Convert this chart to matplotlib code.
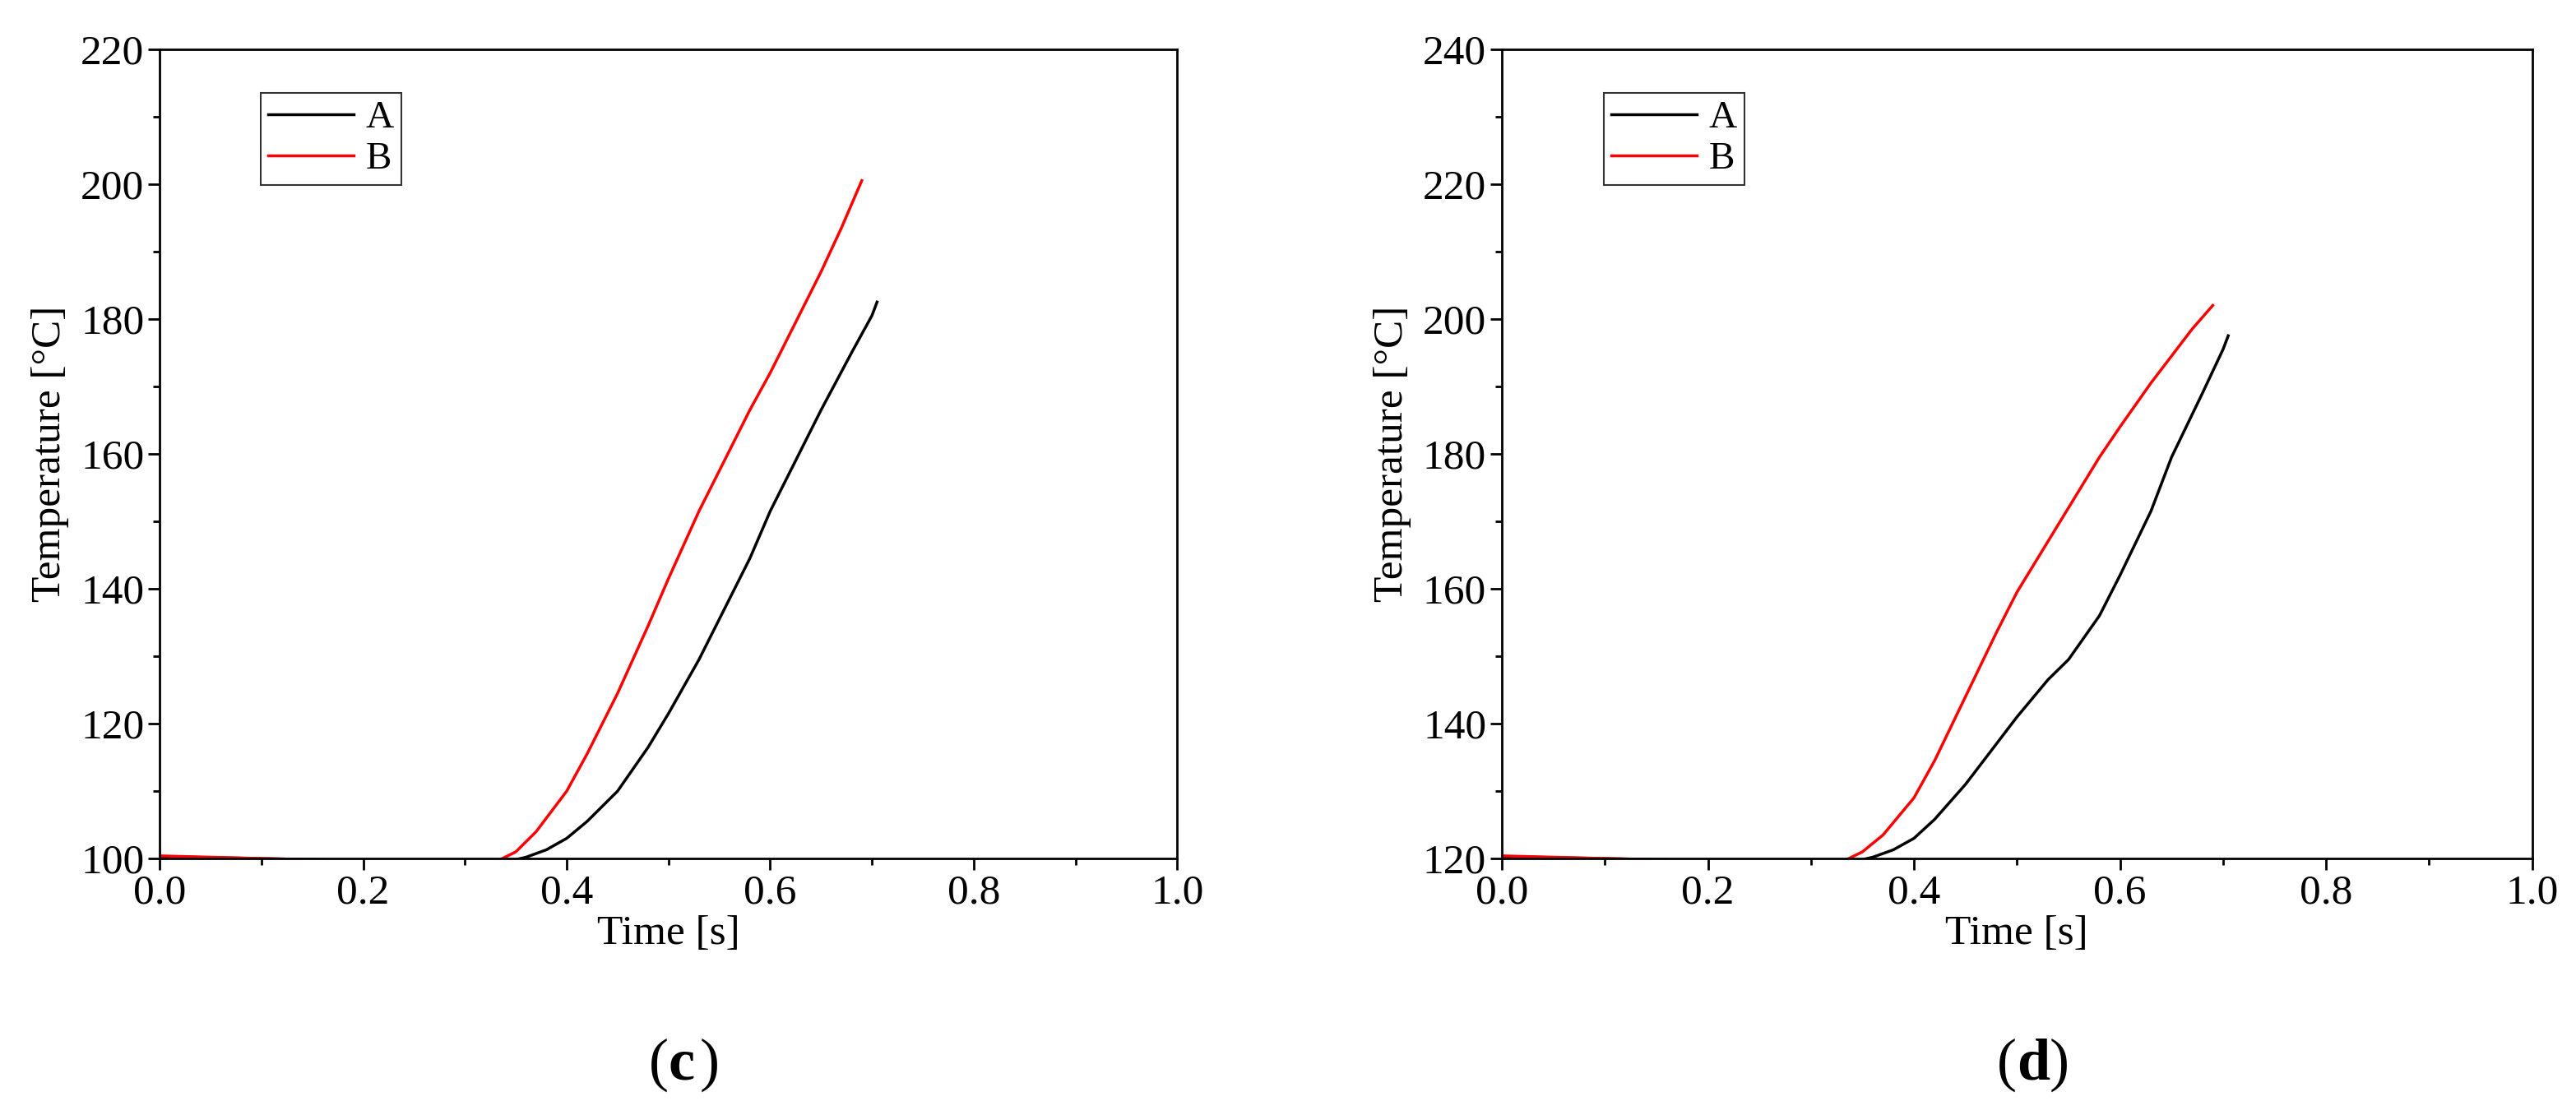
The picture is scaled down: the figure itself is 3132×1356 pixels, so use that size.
import numpy as np
import matplotlib.pyplot as plt
from matplotlib.ticker import MultipleLocator, AutoMinorLocator

plt.rcParams['font.family'] = ['Liberation Serif', 'DejaVu Serif']

# panel (c)
c_a_t = [0.0, 0.1, 0.2, 0.3, 0.34, 0.36, 0.38, 0.40, 0.42, 0.45, 0.48, 0.50, 0.53, 0.55, 0.58, 0.60, 0.63, 0.65, 0.68, 0.70, 0.705]
c_a_T = [100.3, 100.0, 99.7, 99.5, 99.5, 100.2, 101.3, 103.0, 105.5, 110.0, 116.5, 121.5, 129.5, 135.5, 144.5, 151.5, 160.5, 166.5, 175.0, 180.5, 182.5]
c_b_t = [0.0, 0.1, 0.2, 0.3, 0.33, 0.35, 0.37, 0.40, 0.42, 0.45, 0.48, 0.50, 0.53, 0.55, 0.58, 0.60, 0.63, 0.65, 0.67, 0.69]
c_b_T = [100.4, 100.0, 99.7, 99.5, 99.5, 101.0, 104.0, 110.0, 115.5, 124.5, 134.5, 141.5, 151.5, 157.5, 166.5, 172.0, 181.0, 187.0, 193.5, 200.5]

# panel (d)
d_a_t = [0.0, 0.1, 0.2, 0.3, 0.34, 0.36, 0.38, 0.40, 0.42, 0.45, 0.48, 0.50, 0.53, 0.55, 0.58, 0.60, 0.63, 0.65, 0.68, 0.70, 0.705]
d_a_T = [120.3, 120.0, 119.7, 119.5, 119.5, 120.2, 121.3, 123.0, 125.8, 131.0, 137.0, 141.0, 146.5, 149.5, 156.0, 162.0, 171.5, 179.5, 189.0, 195.5, 197.5]
d_b_t = [0.0, 0.1, 0.2, 0.3, 0.33, 0.35, 0.37, 0.40, 0.42, 0.45, 0.48, 0.50, 0.53, 0.55, 0.58, 0.60, 0.63, 0.65, 0.67, 0.69]
d_b_T = [120.4, 120.0, 119.7, 119.5, 119.5, 121.0, 123.5, 129.0, 134.5, 144.0, 153.5, 159.5, 167.0, 172.0, 179.5, 184.0, 190.5, 194.5, 198.5, 202.0]

panels = [
    ("(c)", c_a_t, c_a_T, c_b_t, c_b_T, (100, 220)),
    ("(d)", d_a_t, d_a_T, d_b_t, d_b_T, (120, 240)),
]

fig = plt.figure(figsize=(31.32, 13.56), dpi=100)
boxes = [[0.062, 0.230, 0.395, 0.726], [0.583, 0.230, 0.400, 0.726]]

for box, (tag, at, aT, bt, bT, ylim) in zip(boxes, panels):
    ax = fig.add_axes(box)
    ax.plot(at, aT, color="black", lw=2.5, label="A")
    ax.plot(bt, bT, color="red", lw=2.5, label="B")
    ax.set_xlim(0, 1.0)
    ax.set_ylim(*ylim)
    ax.xaxis.set_major_locator(MultipleLocator(0.2))
    ax.yaxis.set_major_locator(MultipleLocator(20))
    ax.xaxis.set_minor_locator(AutoMinorLocator(2))
    ax.yaxis.set_minor_locator(AutoMinorLocator(2))
    ax.tick_params(which="major", length=10, width=2, labelsize=37)
    ax.tick_params(which="minor", length=6, width=2)
    for s in ax.spines.values():
        s.set_linewidth(2)
    ax.set_xlabel("Time [s]", fontsize=37, labelpad=2)
    ax.set_ylabel("Temperature [°C]", fontsize=37, labelpad=10)
    leg = ax.legend(loc="upper left", bbox_to_anchor=(0.08, 0.97), fontsize=34,
                    fancybox=False, edgecolor="black", handlelength=2.2,
                    borderpad=0.2, labelspacing=0.15, handletextpad=0.3)
    leg.get_frame().set_linewidth(1.5)
    ax.text(0.5, -0.255, tag[0], transform=ax.transAxes, ha="right", va="center", fontsize=52)
    ax.text(0.5, -0.255, tag[1], transform=ax.transAxes, ha="left", va="center",
            fontsize=52, fontweight="bold")
    ax.text(0.5 + 0.031, -0.255, tag[2], transform=ax.transAxes, ha="left", va="center", fontsize=52)

fig.savefig("out.png", dpi=100)
